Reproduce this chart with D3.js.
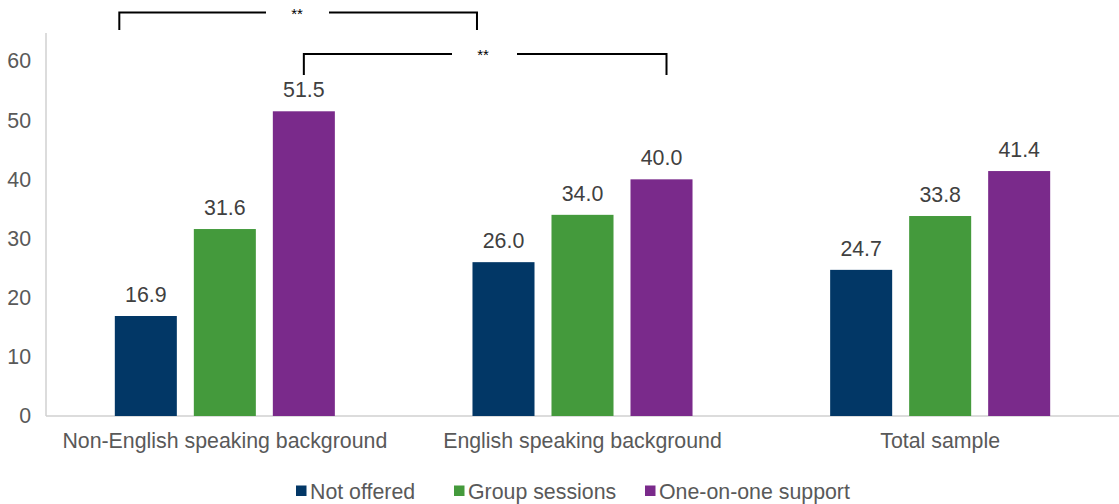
<!DOCTYPE html>
<html><head><meta charset="utf-8">
<script src="https://cdn.jsdelivr.net/npm/d3@7"></script>
<style>body{margin:0;background:#fff}svg{display:block;font-family:"Liberation Sans",Arial,sans-serif}</style>
</head><body><svg id="c" width="1119" height="504"></svg>
<script>
const categories = ["Non-English speaking background", "English speaking background", "Total sample"];
const seriesNames = ["Not offered", "Group sessions", "One-on-one support"];
const notOffered = [16.9, 26.0, 24.7];
const groupSessions = [31.6, 34.0, 33.8];
const oneOnOne = [51.5, 40.0, 41.4];
const yTicks = [0, 10, 20, 30, 40, 50, 60];
const colors = ["#023766", "#449a3c", "#7a2a8b"];
const seriesValues = [notOffered, groupSessions, oneOnOne];

(function () {
const svg = d3.select("#c");
const fs = 21.33;
const pl = 46, pr = 1119, pt = 33, pb = 416;
const y = d3.scaleLinear().domain([0, 60]).range([pb, 61]);
const x0 = d3.scaleBand().domain(categories).range([pl, pr]);
const x1 = d3.scaleBand().domain(seriesNames).range([0, x0.bandwidth()]).paddingInner(0.215).paddingOuter(0.871);

// axes lines
svg.append("line").attr("x1", pl).attr("x2", pl).attr("y1", pt).attr("y2", pb).attr("stroke", "#d0d0d0").attr("stroke-width", 1.5);
svg.append("line").attr("x1", pl).attr("x2", pr).attr("y1", pb).attr("y2", pb).attr("stroke", "#d0d0d0").attr("stroke-width", 1.5);

// y tick labels
svg.append("g").selectAll("text").data(yTicks).join("text")
  .attr("x", 31).attr("y", d => y(d)).attr("dy", "0.35em").attr("text-anchor", "end")
  .attr("font-size", fs).attr("fill", "#595959").text(d => d);

// bars
const g = svg.append("g");
categories.forEach((c, i) => {
  seriesNames.forEach((s, j) => {
    const v = seriesValues[j][i];
    const bx = x0(c) + x1(s);
    g.append("rect").attr("x", bx).attr("y", y(v)).attr("width", x1.bandwidth()).attr("height", y(0) - y(v)).attr("fill", colors[j]);
    g.append("text").attr("x", bx + x1.bandwidth() / 2).attr("y", y(v) - 14).attr("text-anchor", "middle")
      .attr("font-size", fs).attr("fill", "#404040").text(v.toFixed(1));
  });
});

// category labels
svg.append("g").selectAll("text").data(categories).join("text")
  .attr("x", d => x0(d) + x0.bandwidth() / 2).attr("y", 448).attr("text-anchor", "middle")
  .attr("font-size", fs).attr("fill", "#595959").text(d => d);

// legend
const legendX = [296, 454, 645];
const lg = svg.append("g");
seriesNames.forEach((s, j) => {
  lg.append("rect").attr("x", legendX[j]).attr("y", 485.5).attr("width", 10.5).attr("height", 10.5).attr("fill", colors[j]);
  lg.append("text").attr("x", legendX[j] + 14).attr("y", 499).attr("font-size", fs).attr("fill", "#595959").text(s);
});

// significance brackets
function bracket(xa, xb, yTop, yBot, gapL, gapR, label, lx) {
  const b = svg.append("g").attr("fill", "none").attr("stroke", "#000").attr("stroke-width", 2);
  b.append("path").attr("d", `M${xa},${yBot} L${xa},${yTop} L${gapL},${yTop}`);
  b.append("path").attr("d", `M${gapR},${yTop} L${xb},${yTop} L${xb},${yBot}`);
  svg.append("text").attr("x", lx).attr("y", yTop + 6).attr("text-anchor", "middle").attr("font-size", 15).attr("fill", "#000").text(label);
}
const b1L = x0(categories[0]) + x1(seriesNames[0]) + 4.5;
const b1R = x0(categories[1]) + x1(seriesNames[0]) + 4.5;
bracket(b1L, b1R, 12.5, 30, 266, 329, "**", 297);
const b2L = x0(categories[0]) + x1(seriesNames[2]) + x1.bandwidth() / 2;
const b2R = x0(categories[1]) + x1(seriesNames[2]) + x1.bandwidth() / 2 + 5;
bracket(b2L, b2R, 54, 75, 452, 517, "**", 483);
})();
</script></body></html>
